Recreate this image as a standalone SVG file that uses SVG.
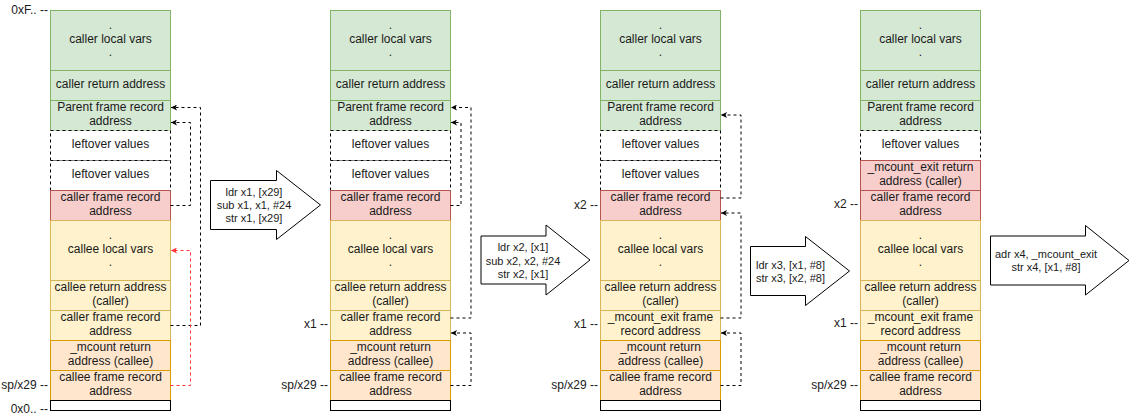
<svg xmlns="http://www.w3.org/2000/svg" width="1130" height="420" viewBox="0 0 1130 420">
<style>
text{font-family:"Liberation Sans",Arial,sans-serif;font-size:12px;fill:#1a1a1a;text-anchor:middle;dominant-baseline:central}
.lbl{text-anchor:end}
.op{font-size:11px}
.g{fill:#d5e8d4;stroke:#82b366}
.r{fill:#f8cecc;stroke:#b85450}
.y{fill:#fff2cc;stroke:#d6b656}
.o{fill:#ffe6cc;stroke:#d79b00}
.l{fill:#fff;stroke:#000;stroke-dasharray:3 3}
.w{fill:#fff;stroke:#000}
.arrow{fill:#fff;stroke:#000;stroke-width:1}
.c{fill:none;stroke:#000;stroke-width:1;stroke-dasharray:3 3;marker-end:url(#ah)}
.cr{fill:none;stroke:#ff3333;stroke-width:1;stroke-dasharray:3 3;marker-end:url(#ahr)}
</style>
<defs>
<marker id="ah" markerUnits="userSpaceOnUse" viewBox="0 0 6 6" refX="6" refY="3" markerWidth="6" markerHeight="6" orient="auto"><path d="M0,0 L6,3 L0,6 L1.5,3 Z" fill="#000"/></marker>
<marker id="ahr" markerUnits="userSpaceOnUse" viewBox="0 0 6 6" refX="6" refY="3" markerWidth="6" markerHeight="6" orient="auto"><path d="M0,0 L6,3 L0,6 L1.5,3 Z" fill="#ff3333"/></marker>
</defs>
<rect width="1130" height="420" fill="#fff"/>

<!-- side labels -->
<g id="labels">
<text class="lbl" x="48" y="10">0xF.. --</text>
<text class="lbl" x="48" y="385">sp/x29 --</text>
<text class="lbl" x="48" y="409">0x0.. --</text>
<text class="lbl" x="328" y="324">x1 --</text>
<text class="lbl" x="328" y="385">sp/x29 --</text>
<text class="lbl" x="598" y="205">x2 --</text>
<text class="lbl" x="598" y="324">x1 --</text>
<text class="lbl" x="598" y="385">sp/x29 --</text>
<text class="lbl" x="858" y="204">x2 --</text>
<text class="lbl" x="858" y="323">x1 --</text>
<text class="lbl" x="858" y="385">sp/x29 --</text>
</g>

<!-- column 1 -->
<g id="c1-caller-local"><rect class="g" x="50.5" y="10.5" width="120" height="60"/><text x="110.5" y="25">.</text><text x="110.5" y="38.5">caller local vars</text><text x="110.5" y="52">.</text></g>
<g id="c1-caller-ret"><rect class="g" x="50.5" y="70.5" width="120" height="30"/><text x="110.5" y="84">caller return address</text></g>
<g id="c1-parent"><rect class="g" x="50.5" y="100.5" width="120" height="30"/><text x="110.5" y="107">Parent frame record</text><text x="110.5" y="120.5">address</text></g>
<g id="c1-left1"><rect class="l" x="50.5" y="130.5" width="120" height="30"/><text x="110.5" y="144">leftover values</text></g>
<g id="c1-left2"><rect class="l" x="50.5" y="160.5" width="120" height="30"/><text x="110.5" y="174">leftover values</text></g>
<g id="c1-callerfr"><rect class="r" x="50.5" y="190.5" width="120" height="30"/><text x="110.5" y="197">caller frame record</text><text x="110.5" y="210.5">address</text></g>
<g id="c1-callee-local"><rect class="y" x="50.5" y="220.5" width="120" height="60"/><text x="110.5" y="235">.</text><text x="110.5" y="248.5">callee local vars</text><text x="110.5" y="262">.</text></g>
<g id="c1-callee-ret"><rect class="y" x="50.5" y="280.5" width="120" height="30"/><text x="110.5" y="287">callee return address</text><text x="110.5" y="300.5">(caller)</text></g>
<g id="c1-callerfr2"><rect class="y" x="50.5" y="310.5" width="120" height="30"/><text x="110.5" y="317">caller frame record</text><text x="110.5" y="330.5">address</text></g>
<g id="c1-mcount-ret"><rect class="o" x="50.5" y="340.5" width="120" height="30"/><text x="110.5" y="347">_mcount return</text><text x="110.5" y="360.5">address (callee)</text></g>
<g id="c1-calleefr"><rect class="o" x="50.5" y="370.5" width="120" height="30"/><text x="110.5" y="377">callee frame record</text><text x="110.5" y="390.5">address</text></g>
<g id="c1-bottom"><rect class="w" x="50.5" y="400.5" width="120" height="10"/></g>

<!-- column 2 -->
<g id="c2-caller-local"><rect class="g" x="330.5" y="10.5" width="120" height="60"/><text x="390.5" y="25">.</text><text x="390.5" y="38.5">caller local vars</text><text x="390.5" y="52">.</text></g>
<g id="c2-caller-ret"><rect class="g" x="330.5" y="70.5" width="120" height="30"/><text x="390.5" y="84">caller return address</text></g>
<g id="c2-parent"><rect class="g" x="330.5" y="100.5" width="120" height="30"/><text x="390.5" y="107">Parent frame record</text><text x="390.5" y="120.5">address</text></g>
<g id="c2-left1"><rect class="l" x="330.5" y="130.5" width="120" height="30"/><text x="390.5" y="144">leftover values</text></g>
<g id="c2-left2"><rect class="l" x="330.5" y="160.5" width="120" height="30"/><text x="390.5" y="174">leftover values</text></g>
<g id="c2-callerfr"><rect class="r" x="330.5" y="190.5" width="120" height="30"/><text x="390.5" y="197">caller frame record</text><text x="390.5" y="210.5">address</text></g>
<g id="c2-callee-local"><rect class="y" x="330.5" y="220.5" width="120" height="60"/><text x="390.5" y="235">.</text><text x="390.5" y="248.5">callee local vars</text><text x="390.5" y="262">.</text></g>
<g id="c2-callee-ret"><rect class="y" x="330.5" y="280.5" width="120" height="30"/><text x="390.5" y="287">callee return address</text><text x="390.5" y="300.5">(caller)</text></g>
<g id="c2-callerfr2"><rect class="y" x="330.5" y="310.5" width="120" height="30"/><text x="390.5" y="317">caller frame record</text><text x="390.5" y="330.5">address</text></g>
<g id="c2-mcount-ret"><rect class="o" x="330.5" y="340.5" width="120" height="30"/><text x="390.5" y="347">_mcount return</text><text x="390.5" y="360.5">address (callee)</text></g>
<g id="c2-calleefr"><rect class="o" x="330.5" y="370.5" width="120" height="30"/><text x="390.5" y="377">callee frame record</text><text x="390.5" y="390.5">address</text></g>
<g id="c2-bottom"><rect class="w" x="330.5" y="400.5" width="120" height="10"/></g>

<!-- column 3 -->
<g id="c3-caller-local"><rect class="g" x="600.5" y="10.5" width="120" height="60"/><text x="660.5" y="25">.</text><text x="660.5" y="38.5">caller local vars</text><text x="660.5" y="52">.</text></g>
<g id="c3-caller-ret"><rect class="g" x="600.5" y="70.5" width="120" height="30"/><text x="660.5" y="84">caller return address</text></g>
<g id="c3-parent"><rect class="g" x="600.5" y="100.5" width="120" height="30"/><text x="660.5" y="107">Parent frame record</text><text x="660.5" y="120.5">address</text></g>
<g id="c3-left1"><rect class="l" x="600.5" y="130.5" width="120" height="30"/><text x="660.5" y="144">leftover values</text></g>
<g id="c3-left2"><rect class="l" x="600.5" y="160.5" width="120" height="30"/><text x="660.5" y="174">leftover values</text></g>
<g id="c3-callerfr"><rect class="r" x="600.5" y="190.5" width="120" height="30"/><text x="660.5" y="197">caller frame record</text><text x="660.5" y="210.5">address</text></g>
<g id="c3-callee-local"><rect class="y" x="600.5" y="220.5" width="120" height="60"/><text x="660.5" y="235">.</text><text x="660.5" y="248.5">callee local vars</text><text x="660.5" y="262">.</text></g>
<g id="c3-callee-ret"><rect class="y" x="600.5" y="280.5" width="120" height="30"/><text x="660.5" y="287">callee return address</text><text x="660.5" y="300.5">(caller)</text></g>
<g id="c3-exitfr"><rect class="y" x="600.5" y="310.5" width="120" height="30"/><text x="660.5" y="317">_mcount_exit frame</text><text x="660.5" y="330.5">record address</text></g>
<g id="c3-mcount-ret"><rect class="o" x="600.5" y="340.5" width="120" height="30"/><text x="660.5" y="347">_mcount return</text><text x="660.5" y="360.5">address (callee)</text></g>
<g id="c3-calleefr"><rect class="o" x="600.5" y="370.5" width="120" height="30"/><text x="660.5" y="377">callee frame record</text><text x="660.5" y="390.5">address</text></g>
<g id="c3-bottom"><rect class="w" x="600.5" y="400.5" width="120" height="10"/></g>

<!-- column 4 -->
<g id="c4-caller-local"><rect class="g" x="860.5" y="10.5" width="120" height="60"/><text x="920.5" y="25">.</text><text x="920.5" y="38.5">caller local vars</text><text x="920.5" y="52">.</text></g>
<g id="c4-caller-ret"><rect class="g" x="860.5" y="70.5" width="120" height="30"/><text x="920.5" y="84">caller return address</text></g>
<g id="c4-parent"><rect class="g" x="860.5" y="100.5" width="120" height="30"/><text x="920.5" y="107">Parent frame record</text><text x="920.5" y="120.5">address</text></g>
<g id="c4-left1"><rect class="l" x="860.5" y="130.5" width="120" height="30"/><text x="920.5" y="144">leftover values</text></g>
<g id="c4-exitret"><rect class="r" x="860.5" y="160.5" width="120" height="30"/><text x="920.5" y="167">_mcount_exit return</text><text x="920.5" y="180.5">address (caller)</text></g>
<g id="c4-callerfr"><rect class="r" x="860.5" y="190.5" width="120" height="30"/><text x="920.5" y="197">caller frame record</text><text x="920.5" y="210.5">address</text></g>
<g id="c4-callee-local"><rect class="y" x="860.5" y="220.5" width="120" height="60"/><text x="920.5" y="235">.</text><text x="920.5" y="248.5">callee local vars</text><text x="920.5" y="262">.</text></g>
<g id="c4-callee-ret"><rect class="y" x="860.5" y="280.5" width="120" height="30"/><text x="920.5" y="287">callee return address</text><text x="920.5" y="300.5">(caller)</text></g>
<g id="c4-exitfr"><rect class="y" x="860.5" y="310.5" width="120" height="30"/><text x="920.5" y="317">_mcount_exit frame</text><text x="920.5" y="330.5">record address</text></g>
<g id="c4-mcount-ret"><rect class="o" x="860.5" y="340.5" width="120" height="30"/><text x="920.5" y="347">_mcount return</text><text x="920.5" y="360.5">address (callee)</text></g>
<g id="c4-calleefr"><rect class="o" x="860.5" y="370.5" width="120" height="30"/><text x="920.5" y="377">callee frame record</text><text x="920.5" y="390.5">address</text></g>
<g id="c4-bottom"><rect class="w" x="860.5" y="400.5" width="120" height="10"/></g>

<!-- step arrows -->
<g id="step1"><polygon class="arrow" points="210.5,180.5 276.5,180.5 276.5,170.5 320.5,205 276.5,239.5 276.5,229.5 210.5,229.5"/>
<text class="op" x="254" y="191.5">ldr x1, [x29]</text><text class="op" x="254" y="204.5">sub x1, x1, #24</text><text class="op" x="254" y="217.5">str x1, [x29]</text></g>
<g id="step2"><polygon class="arrow" points="481,236 546,236 546,225 590,260 546,295 546,284 481,284"/>
<text class="op" x="523" y="247.3">ldr x2, [x1]</text><text class="op" x="523" y="260.5">sub x2, x2, #24</text><text class="op" x="523" y="273.5">str x2, [x1]</text></g>
<g id="step3"><polygon class="arrow" points="750.5,246.5 805.5,246.5 805.5,236.5 849.5,271 805.5,305.5 805.5,295.5 750.5,295.5"/>
<text class="op" x="790.5" y="265">ldr x3, [x1, #8]</text><text class="op" x="790.5" y="277.5">str x3, [x2, #8]</text></g>
<g id="step4"><polygon class="arrow" points="990.5,236 1085.5,236 1085.5,225.5 1129,260.5 1085.5,295 1085.5,285 990.5,285"/>
<text class="op" x="1046" y="254">adr x4, _mcount_exit</text><text class="op" x="1046" y="267">str x4, [x1, #8]</text></g>

<!-- connectors -->
<g id="connectors">
<polyline class="c" points="170.5,325.5 200.5,325.5 200.5,107.5 171,107.5"/>
<polyline class="c" points="170.5,205.5 190.5,205.5 190.5,122.5 171,122.5"/>
<polyline class="cr" points="170.5,385.5 190.5,385.5 190.5,250.5 171,250.5"/>
<polyline class="c" points="450.5,318 471,318 471,107.5 451,107.5"/>
<polyline class="c" points="450.5,205.5 461,205.5 461,122.5 451,122.5"/>
<polyline class="c" points="450.5,385.5 471,385.5 471,333 451,333"/>
<polyline class="c" points="720.5,198 741,198 741,115 721,115"/>
<polyline class="c" points="720.5,318 741,318 741,213 721,213"/>
<polyline class="c" points="720.5,385.5 741,385.5 741,333 721,333"/>
</g>
</svg>
